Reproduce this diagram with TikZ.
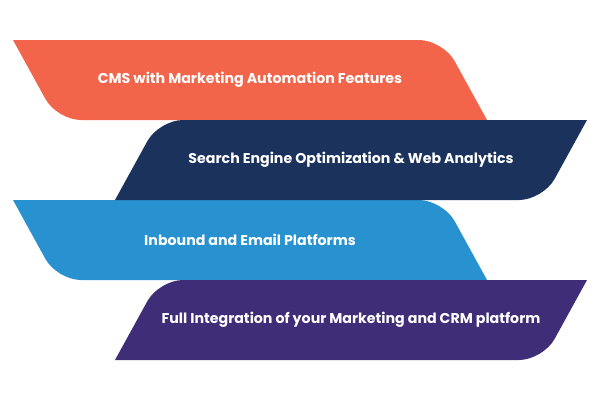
\documentclass[tikz,border=0pt]{standalone}
\usepackage{fontspec}
\setmainfont{Poppins}
\usepackage{tikz}

\definecolor{bandorange}{HTML}{F2654A}
\definecolor{bandnavy}{HTML}{1B325D}
\definecolor{bandblue}{HTML}{2891D0}
\definecolor{bandpurple}{HTML}{3F2D78}

\tikzset{
  bandtext/.style={text=white, font=\fontsize{14.2}{17}\selectfont\bfseries, inner sep=0pt},
}

\begin{document}
\begin{tikzpicture}[x=1pt, y=-1pt]
% page size
	\useasboundingbox (0,0) rectangle (601,400);

% bands leaning right
	\fill[bandorange] (13,40) [rounded corners=24] -- (443,40) [sharp corners] -- (487,120) [rounded corners=24] -- (57,120) [sharp corners] -- cycle;
	\fill[bandblue] (13,200) [rounded corners=24] -- (443,200) [sharp corners] -- (487,280) [rounded corners=24] -- (57,280) [sharp corners] -- cycle;
% bands leaning left
	\fill[bandnavy] (587,120) [rounded corners=24] -- (543,200) [sharp corners] -- (115,200) [rounded corners=24] -- (159,120) [sharp corners] -- cycle;
	\fill[bandpurple] (587,280) [rounded corners=24] -- (543,360) [sharp corners] -- (115,360) [rounded corners=24] -- (159,280) [sharp corners] -- cycle;

% labels
	\node[bandtext] (cms) at (250,80) {CMS with Marketing Automation Features};
	\node[bandtext] (seo) at (351,160) {Search Engine Optimization \& Web Analytics};
	\node[bandtext] (inbound) at (250,240) {Inbound and Email Platforms};
	\node[bandtext] (crm) at (351,320) {Full Integration of your Marketing and CRM platform};
\end{tikzpicture}
\end{document}
